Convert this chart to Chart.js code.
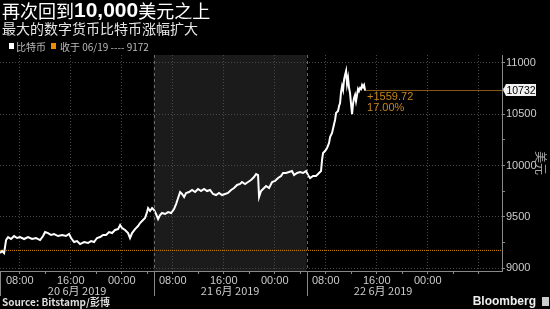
<!DOCTYPE html>
<html>
<head>
<meta charset="utf-8">
<script src="https://cdn.jsdelivr.net/npm/chart.js@4"></script>
<style>
  html, body { margin: 0; padding: 0; background: #000; }
  #wrap { width: 550px; height: 309px; }
</style>
</head>
<body>
<div id="wrap"><canvas id="btc" width="550" height="309"></canvas></div>
<script>
// hours counted from 20 Jun 2019 00:00
const hours = [
  4.91, 5.22, 5.54, 5.85, 6.17, 6.64, 7.11, 7.58, 8.05, 8.68, 9.30, 9.93, 10.56, 11.19, 11.66, 11.97,
  12.44, 12.91, 13.38, 14.01, 14.64, 15.26, 15.73, 16.05, 16.52, 16.99, 17.46, 18.09, 18.71, 19.18,
  19.65, 20.12, 20.60, 21.07, 21.54, 22.01, 22.48, 22.95, 23.42, 23.74, 24.05, 24.52, 24.99, 25.30,
  25.62, 26.09, 26.56, 26.87, 27.34, 27.66, 27.97, 28.13, 28.44, 28.76, 29.07, 29.38, 29.70, 30.01,
  30.32, 30.79, 31.27, 31.74, 32.21, 32.52, 32.84, 33.15, 33.46, 33.78, 34.09, 34.56, 35.03, 35.50,
  35.97, 36.44, 36.91, 37.38, 37.85, 38.32, 38.79, 39.26, 39.73, 40.20, 40.67, 41.15, 41.62, 42.09,
  42.56, 42.87, 43.34, 43.81, 44.28, 44.75, 45.07, 45.38, 45.54, 45.85, 46.17, 46.64, 47.11, 47.58,
  48.05, 48.52, 48.99, 49.30, 49.77, 50.24, 50.71, 51.03, 51.50, 51.97, 52.44, 52.91, 53.22, 53.54,
  54.01, 54.48, 54.95, 55.26, 55.42, 55.58, 55.89, 56.21, 56.52, 56.68, 56.99, 57.31, 57.46, 57.62,
  57.93, 58.09, 58.25, 58.40, 58.56, 58.72, 58.87, 59.03, 59.19, 59.34, 59.50, 59.66, 59.81, 59.97,
  60.13, 60.28, 60.44, 60.60, 60.75, 60.91, 61.07, 61.22, 61.38, 61.54, 61.70, 61.85, 62.01, 62.17
];
const prices = [
  9146, 9166, 9146, 9273, 9302, 9283, 9312, 9293, 9302, 9283, 9302, 9283, 9293, 9273, 9312, 9351,
  9341, 9322, 9332, 9312, 9322, 9312, 9332, 9293, 9254, 9263, 9234, 9254, 9244, 9263,
  9254, 9293, 9302, 9322, 9322, 9351, 9341, 9371, 9380, 9420, 9390, 9371, 9341, 9293,
  9341, 9380, 9410, 9439, 9468, 9488, 9546, 9585, 9556, 9585, 9566, 9527, 9478, 9517,
  9537, 9527, 9546, 9537, 9576, 9624, 9683, 9741, 9722, 9693, 9732, 9741, 9761, 9741,
  9771, 9751, 9771, 9751, 9761, 9722, 9712, 9732, 9712, 9722, 9732, 9761, 9780, 9810,
  9820, 9839, 9820, 9839, 9859, 9888, 9917, 9907, 9693, 9751, 9771, 9800, 9780, 9839,
  9849, 9878, 9898, 9927, 9927, 9937, 9946, 9907, 9927, 9937, 9927, 9946, 9907, 9878,
  9898, 9898, 9927, 9946, 10054, 10122, 10141, 10171, 10220, 10278, 10317, 10405, 10444, 10512,
  10532, 10580, 10610, 10717, 10776, 10737, 10834, 10883, 10922, 10795, 10854, 10756, 10707, 10600,
  10502, 10600, 10659, 10688, 10629, 10688, 10746, 10727, 10756, 10746, 10785, 10766, 10785, 10732
];
const closeLevel = 9172;
const lastPrice = 10732;
const changeLines = ['+1559.72', '17.00%'];
const hourTicks = [8, 12, 16, 20, 24, 28, 32, 36, 40, 44, 48, 52, 56, 60, 64, 68, 72, 76, 80];
const priceTicks = [9000, 9250, 9500, 9750, 10000, 10250, 10500, 10750, 11000];
const dayBounds = [5, 29, 53, 77];
const dayLabels = ['20 6月 2019', '21 6月 2019', '22 6月 2019'];

const xMin = 4.9, xMax = 83.65;
const cjk = '"Noto Sans CJK SC", "Noto Sans", sans-serif';
const latin = '"Liberation Sans", "Noto Sans", sans-serif';

const extras = {
  id: 'extras',
  beforeDraw(chart) {
    const c = chart.ctx, a = chart.chartArea, x = chart.scales.x;
    c.save();
    c.fillStyle = '#000';
    c.fillRect(0, 0, chart.width, chart.height);
    c.fillStyle = '#1b1b1b';
    c.fillRect(x.getPixelForValue(dayBounds[1]), a.top,
      x.getPixelForValue(dayBounds[2]) - x.getPixelForValue(dayBounds[1]), a.bottom - a.top);
    c.restore();
  },
  afterDraw(chart) {
    const c = chart.ctx, a = chart.chartArea, x = chart.scales.x, y = chart.scales.y;
    c.save();

    // day separators
    c.strokeStyle = '#6a6a6a';
    c.lineWidth = 1;
    [dayBounds[1], dayBounds[2]].forEach(h => {
      const px = Math.round(x.getPixelForValue(h)) + 0.5;
      c.setLineDash([3, 3]);
      c.beginPath(); c.moveTo(px, a.top); c.lineTo(px, a.bottom); c.stroke();
    });
    c.setLineDash([]);
    c.strokeStyle = '#888';
    [0.5, Math.round(x.getPixelForValue(dayBounds[1])) + 0.5, Math.round(x.getPixelForValue(dayBounds[2])) + 0.5]
      .forEach(px => { c.beginPath(); c.moveTo(px, a.bottom); c.lineTo(px, 296); c.stroke(); });

    // day labels
    c.fillStyle = '#ccc';
    c.font = '11px ' + cjk;
    c.textAlign = 'center';
    c.textBaseline = 'middle';
    dayLabels.forEach((t, i) => {
      c.fillText(t, x.getPixelForValue((dayBounds[i] + dayBounds[i + 1]) / 2), 291);
    });

    // change annotation
    const endX = x.getPixelForValue(hours[hours.length - 1]);
    c.fillStyle = '#c9841c';
    c.font = '11px ' + latin;
    c.textAlign = 'left';
    c.fillText(changeLines[0], endX + 2, 97);
    c.fillText(changeLines[1], endX + 2, 108);

    // last price tag
    const py = Math.round(y.getPixelForValue(lastPrice));
    c.fillStyle = '#f2f2f2';
    c.beginPath();
    c.moveTo(a.right + 1, py);
    c.lineTo(a.right + 4, py - 6);
    c.lineTo(a.right + 34, py - 6);
    c.lineTo(a.right + 34, py + 6);
    c.lineTo(a.right + 4, py + 6);
    c.closePath();
    c.fill();
    c.fillStyle = '#000';
    c.textAlign = 'center';
    c.font = '10.5px ' + latin;
    c.fillText(String(lastPrice), a.right + 19, py + 1);

    // unit
    c.save();
    c.translate(541, 163);
    c.rotate(Math.PI / 2);
    c.fillStyle = '#aaa';
    c.font = '12px ' + cjk;
    c.fillText('美元', 0, 0);
    c.restore();

    // title
    c.textAlign = 'left';
    c.fillStyle = '#fff';
    let tx = 2;
    c.font = '18px ' + cjk;
    c.fillText('再次回到', tx, 11); tx += c.measureText('再次回到').width;
    c.font = 'bold 21px ' + latin;
    c.fillText('10,000', tx, 11); tx += c.measureText('10,000').width;
    c.font = '18px ' + cjk;
    c.fillText('美元之上', tx, 11);

    c.fillStyle = '#e6e6e6';
    c.font = '14px ' + cjk;
    c.fillText('最大的数字货币比特币涨幅扩大', 2, 29);

    // legend
    c.fillStyle = '#fff';
    c.fillRect(9, 43, 5, 6);
    c.fillStyle = '#bbb';
    c.font = '10px ' + cjk;
    c.fillText('比特币', 16, 47);
    c.fillStyle = '#f08c00';
    c.fillRect(51, 43, 5, 6);
    c.fillStyle = '#bbb';
    c.fillText('收于 06/19 ---- 9172', 60, 47);

    // footer
    c.fillStyle = '#ddd';
    c.font = 'bold 10px ' + cjk;
    c.fillText('Source: Bitstamp/彭博', 2, 302);
    c.font = '600 12px ' + latin;
    c.fillStyle = '#eee';
    c.textAlign = 'right';
    c.fillText('Bloomberg', 536, 302);
    c.fillStyle = '#ccc';
    c.fillRect(542, 297, 7, 9);
    c.restore();
  }
};

new Chart(document.getElementById('btc'), {
  type: 'line',
  data: {
    datasets: [
      {
        data: hours.map((h, i) => ({ x: h, y: prices[i] })),
        borderColor: '#fff',
        borderWidth: 2,
        pointRadius: 0,
        tension: 0
      },
      {
        data: [{ x: xMin, y: closeLevel }, { x: xMax, y: closeLevel }],
        borderColor: '#d98a00',
        borderWidth: 1,
        borderDash: [1, 1],
        pointRadius: 0
      },
      {
        data: [{ x: hours[hours.length - 1], y: lastPrice }, { x: xMax, y: lastPrice }],
        borderColor: '#8c5812',
        borderWidth: 1,
        pointRadius: 0
      }
    ]
  },
  options: {
    responsive: false,
    animation: false,
    devicePixelRatio: 1,
    layout: { padding: { top: 55, left: 0, right: 0, bottom: 0 } },
    plugins: { legend: { display: false }, tooltip: { enabled: false } },
    scales: {
      x: {
        type: 'linear',
        min: xMin,
        max: xMax,
        afterBuildTicks: s => { s.ticks = hourTicks.map(v => ({ value: v })); },
        afterFit: s => { s.height = 38; },
        grid: {
          color: ctx => (ctx.tick && ctx.tick.value % 8 === 0) ? '#484848' : 'rgba(0,0,0,0)',
          tickColor: '#888',
          tickLength: 3
        },
        border: { color: '#888', dash: [1, 2] },
        ticks: {
          color: '#ccc',
          font: { size: 11, family: latin },
          padding: 0,
          maxRotation: 0,
          autoSkip: false,
          callback: v => (v % 8 === 0 && v <= 72) ? String(v % 24).padStart(2, '0') + ':00' : ''
        }
      },
      y: {
        position: 'right',
        min: 8971,
        max: 11078,
        afterBuildTicks: s => { s.ticks = priceTicks.map(v => ({ value: v })); },
        afterFit: s => { s.width = 48; },
        grid: {
          color: ctx => (ctx.tick && ctx.tick.value % 500 === 0) ? '#484848' : 'rgba(0,0,0,0)',
          tickColor: '#888',
          tickLength: 3
        },
        border: { color: '#888', dash: [1, 2] },
        ticks: {
          color: '#ccc',
          font: { size: 11, family: latin },
          padding: 1,
          callback: v => v % 500 === 0 ? String(v) : ''
        }
      }
    }
  },
  plugins: [extras]
});
</script>
</body>
</html>
